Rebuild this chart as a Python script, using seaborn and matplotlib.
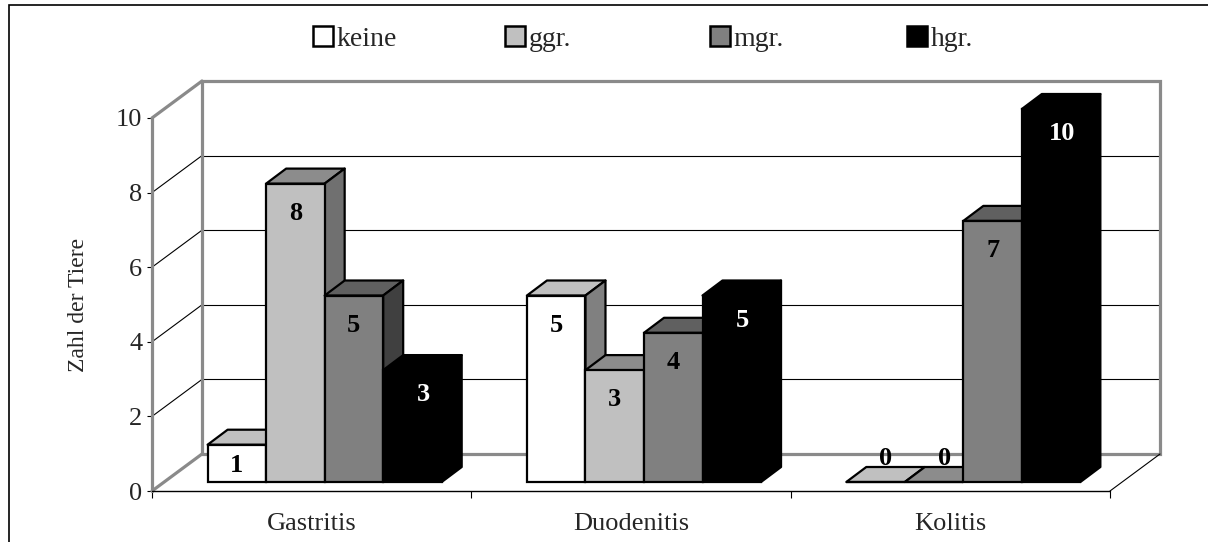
import pandas as pd
import matplotlib.pyplot as plt
import seaborn as sns
from matplotlib.patches import Polygon, Patch, Rectangle

sns.set_theme(style="white")
plt.rcParams['font.family'] = ['Liberation Serif', 'DejaVu Serif']

categories = ["Gastritis", "Duodenitis", "Kolitis"]
grades = ["keine", "ggr.", "mgr.", "hgr."]
keine = [1, 5, 0]
ggr = [8, 3, 0]
mgr = [5, 4, 7]
hgr = [3, 5, 10]
yticks = [0, 2, 4, 6, 8, 10]

front_colors = ["#ffffff", "#c0c0c0", "#808080", "#000000"]
top_colors = ["#c0c0c0", "#8c8c8c", "#606060", "#000000"]
side_colors = ["#808080", "#707070", "#404040", "#000000"]
label_colors = ["black", "black", "black", "white"]

df = pd.DataFrame({
    "Kategorie": categories * 4,
    "Grad": [g for g in grades for _ in categories],
    "Tiere": keine + ggr + mgr + hgr,
})

W, H = 1208, 542
fig = plt.figure(figsize=(W / 100, H / 100), dpi=100)

# pixel geometry of the front plane
x_left, x_right, y_zero, y_ten = 152, 1110, 491, 118
px_x = (x_right - x_left) / 3
px_y = (y_zero - y_ten) / 10

ax = fig.add_axes([x_left / W, 1 - y_zero / H, (x_right - x_left) / W, (y_zero - y_ten) / H])
ax.set_xlim(-0.5, 2.5)
ax.set_ylim(0, 10)
for s in ax.spines.values():
    s.set_visible(False)
ax.set_facecolor("none")

# wall depth
wdx, wdy = 50 / px_x, 37 / px_y
gray = "#8a8a8a"
for v in yticks[1:-1]:
    ax.plot([-0.5 + wdx, 2.5 + wdx], [v + wdy, v + wdy], color="black", lw=0.8, clip_on=False)
    ax.plot([-0.5, -0.5 + wdx], [v, v + wdy], color="black", lw=0.8, clip_on=False)
ax.plot([-0.5 + wdx, -0.5 + wdx, 2.5 + wdx, 2.5 + wdx, -0.5 + wdx],
        [wdy, 10 + wdy, 10 + wdy, wdy, wdy], color=gray, lw=2.3, clip_on=False,
        solid_joinstyle="miter")
ax.plot([-0.5, -0.5 + wdx], [10, 10 + wdy], color=gray, lw=2.3, clip_on=False)
ax.plot([-0.5, -0.5 + wdx], [0, wdy], color=gray, lw=2.3, clip_on=False)
ax.plot([-0.5, -0.5], [0, 10], color=gray, lw=2.3, clip_on=False)
ax.plot([-0.5, 2.5], [0, 0], color="black", lw=1.0, clip_on=False)
ax.plot([2.5, 2.5 + wdx], [0, wdy], color="black", lw=0.8, clip_on=False)

ax.set_yticks(yticks)
ax.set_yticklabels([str(t) for t in yticks], fontsize=19)
ax.tick_params(axis="y", left=True, length=3.6, width=0.8, color="black", pad=3.5, direction="out")
ax.set_xticks(range(3))
ax.set_xticklabels(categories, fontsize=19)
ax.set_xticks([-0.5, 0.5, 1.5, 2.5], minor=True)
ax.tick_params(axis="x", which="major", length=0, pad=16)
ax.tick_params(axis="x", which="minor", bottom=True, length=5, width=0.8, color="black", direction="out")
ax.set_xlabel("")
ax.set_ylabel("")

# bar plane sits a little deeper than the front axis
ax_bar = fig.add_axes([(x_left + 13) / W, 1 - (y_zero - 9) / H,
                       (x_right - x_left) / W, (y_zero - y_ten) / H])
ax_bar.set_facecolor("none")
sns.barplot(data=df, x="Kategorie", y="Tiere", hue="Grad", hue_order=grades,
            order=categories, palette=front_colors, width=0.733, edgecolor="black",
            linewidth=1.6, saturation=1, ax=ax_bar, legend=False)
ax_bar.set_xlim(-0.5, 2.5)
ax_bar.set_ylim(0, 10)
ax_bar.axis("off")

bdx, bdy = 20 / px_x, 15 / px_y
bars = []
for i, cont in enumerate(ax_bar.containers):
    for rect in cont:
        bars.append((rect.get_x(), i, rect))
bars.sort(key=lambda b: b[0])

for k, (x0, i, rect) in enumerate(bars):
    w = rect.get_width()
    h = rect.get_height()
    rect.set_zorder(3 + 2 * k)
    rect.set_clip_on(False)
    top = Polygon([(x0, h), (x0 + w, h), (x0 + w + bdx, h + bdy), (x0 + bdx, h + bdy)],
                  closed=True, facecolor=top_colors[i], edgecolor="black", lw=1.6,
                  joinstyle="round", zorder=2 + 2 * k, clip_on=False)
    ax_bar.add_patch(top)
    if h > 0:
        side = Polygon([(x0 + w, 0), (x0 + w + bdx, bdy), (x0 + w + bdx, h + bdy), (x0 + w, h)],
                       closed=True, facecolor=side_colors[i], edgecolor="black", lw=1.6,
                       joinstyle="round", zorder=2 + 2 * k, clip_on=False)
        ax_bar.add_patch(side)
        if i == 3:
            lx, ly = x0 + w / 2 + 0.55 * bdx, h - 0.66
        else:
            lx, ly = x0 + w / 2, max(h - 0.8, 0.45)
    else:
        lx, ly = x0 + w / 2 + 0.5 * bdx, 0.62
    ax_bar.text(lx, ly, f"{int(h)}", ha="center", va="center", fontsize=19,
                fontweight="bold", color=label_colors[i] if h > 0 else "black",
                zorder=100, clip_on=False)

fig.text(78 / W, 1 - 305 / H, "Zahl der Tiere", rotation=90, ha="center", va="center", fontsize=17)

# Excel-style legend: equal-width entries
legend_x = [313, 505, 710, 907]
for c, g, lx in zip(front_colors, grades, legend_x):
    fig.legend([Patch(facecolor=c, edgecolor="black", lw=1.8)], [g], loc="center left",
               bbox_to_anchor=(lx / W, 1 - 39 / H), frameon=False, fontsize=20,
               handlelength=0.72, handleheight=0.72, handletextpad=0.12, borderpad=0,
               borderaxespad=0)

fig.patches.append(Rectangle((9 / W, -0.1), 1.2, 1.1 - 5 / H, transform=fig.transFigure,
                             fill=False, edgecolor="black", lw=1.2))

fig.savefig("out.png", dpi=100)
